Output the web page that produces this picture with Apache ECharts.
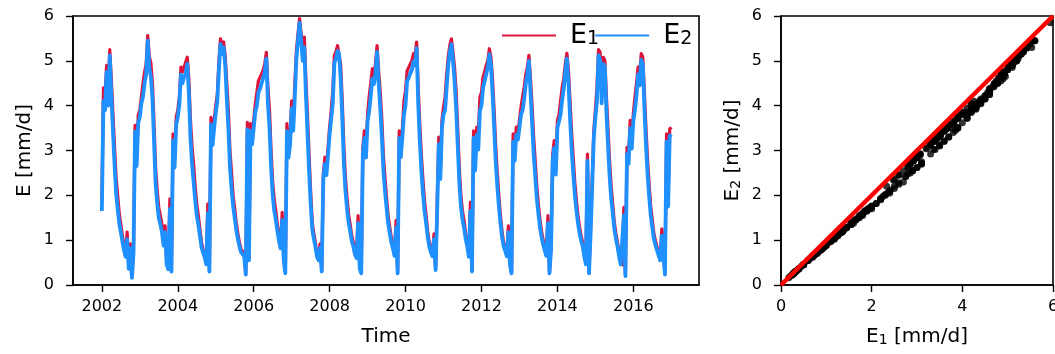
<!DOCTYPE html>
<html>
<head>
<meta charset="utf-8">
<script src="https://cdn.jsdelivr.net/npm/echarts@6/dist/echarts.min.js"></script>
<style>
  html, body { margin: 0; padding: 0; background: #fff; }
  #chart { width: 1055px; height: 354px; }
</style>
</head>
<body>
<div id="chart"></div>
<script>
// time series sampled twice a month, one row per year
const startYear = 2002;
const stepsPerYear = 24;

const e1 = [
  1.85, 4.4, 4.2, 4.9, 4.3, 5.25, 4.6, 3.85, 3.1, 2.4, 2.0, 1.6, 1.35, 1.1, 0.88, 0.7, 1.18, 0.4, 0.92, 0.17, 0.8, 3.56, 2.8, 3.8,
  3.9, 4.2, 4.5, 4.75, 4.93, 5.57, 5.1, 4.95, 4.5, 3.6, 2.6, 2.1, 1.73, 1.55, 1.35, 1.0, 1.32, 0.5, 0.38, 1.92, 0.32, 3.37, 2.8, 3.74,
  3.9, 4.19, 4.86, 4.75, 4.86, 4.9, 5.08, 4.6, 3.7, 3.1, 2.7, 2.2, 1.8, 1.55, 1.25, 0.95, 0.8, 0.69, 0.5, 1.81, 0.32, 3.74, 3.3, 3.67,
  4.0, 4.26, 5.0, 5.49, 5.3, 5.42, 5.1, 4.5, 3.9, 3.0, 2.5, 2.0, 1.7, 1.38, 1.15, 0.95, 0.8, 0.75, 0.7, 0.25, 3.63, 0.6, 3.6, 3.3,
  3.67, 4.04, 4.3, 4.56, 4.6, 4.71, 4.8, 4.93, 5.19, 4.4, 3.9, 3.0, 2.3, 1.9, 1.65, 1.35, 1.1, 0.9, 1.62, 0.6, 0.28, 3.6, 3.0, 3.3,
  4.11, 3.6, 4.5, 5.23, 5.6, 5.94, 5.6, 5.2, 5.53, 4.6, 3.8, 2.9, 2.1, 1.4, 1.15, 0.95, 0.69, 0.6, 0.92, 0.32, 2.48, 2.85, 2.6, 3.07,
  3.52, 3.9, 4.34, 5.12, 5.2, 5.34, 5.3, 4.9, 4.11, 3.1, 2.4, 1.95, 1.58, 1.35, 1.1, 0.95, 0.75, 0.65, 1.55, 0.4, 0.28, 3.07, 3.44, 3.0,
  3.82, 4.2, 4.5, 4.82, 4.7, 4.93, 5.34, 4.78, 4.3, 3.7, 2.9, 2.4, 1.95, 1.55, 1.3, 1.05, 0.9, 0.7, 1.44, 0.28, 3.44, 3.0, 3.48, 4.11,
  4.34, 4.78, 4.85, 4.93, 5.0, 5.16, 5.1, 5.42, 4.41, 3.6, 2.9, 2.35, 1.88, 1.55, 1.2, 0.95, 0.8, 0.69, 1.14, 0.36, 1.88, 3.3, 2.5, 3.67,
  3.97, 4.2, 4.7, 5.1, 5.35, 5.49, 5.2, 4.85, 4.3, 3.5, 2.6, 2.0, 1.65, 1.44, 1.15, 0.95, 0.69, 1.85, 0.32, 3.44, 2.7, 3.52, 3.37, 4.19,
  4.3, 4.64, 4.75, 4.9, 5.01, 5.27, 5.08, 4.6, 3.9, 3.1, 2.5, 2.0, 1.55, 1.2, 0.95, 0.84, 0.7, 1.32, 0.5, 0.28, 3.37, 2.92, 3.52, 3.4,
  3.67, 3.97, 4.2, 4.41, 4.7, 4.86, 5.12, 4.6, 4.0, 3.3, 2.75, 2.2, 1.8, 1.45, 1.2, 1.0, 0.85, 0.7, 1.55, 0.28, 0.9, 2.92, 3.22, 2.6,
  3.67, 3.8, 4.1, 4.4, 4.6, 4.93, 5.17, 4.78, 4.1, 3.4, 2.85, 2.3, 1.9, 1.55, 1.3, 1.1, 0.95, 0.69, 0.5, 2.92, 0.28, 1.29, 2.33, 3.44,
  3.9, 4.4, 5.25, 5.19, 4.34, 5.08, 5.01, 4.2, 3.5, 2.75, 2.2, 1.8, 1.4, 1.15, 0.95, 0.7, 0.5, 0.45, 1.73, 0.21, 3.07, 2.85, 3.67, 3.2,
  3.82, 4.19, 4.5, 4.86, 4.7, 5.16, 5.08, 4.3, 3.5, 2.8, 2.25, 1.75, 1.45, 1.15, 0.99, 0.85, 0.73, 0.6, 1.25, 1.25, 0.25, 3.37, 2.0, 3.48,
  3.52
];

const e2 = [
  1.65, 4.1, 3.9, 4.75, 4.0, 5.12, 4.25, 3.45, 2.7, 2.05, 1.7, 1.38, 1.18, 0.97, 0.78, 0.63, 1.02, 0.36, 0.82, 0.16, 0.7, 3.42, 2.65, 3.62,
  3.75, 4.05, 4.2, 4.5, 4.7, 5.45, 4.85, 4.65, 4.15, 3.2, 2.25, 1.82, 1.5, 1.35, 1.18, 0.88, 1.18, 0.45, 0.35, 1.7, 0.3, 3.22, 2.62, 3.58,
  3.74, 4.02, 4.7, 4.5, 4.65, 4.7, 4.93, 4.3, 3.3, 2.7, 2.3, 1.9, 1.55, 1.35, 1.1, 0.85, 0.72, 0.62, 0.46, 1.6, 0.3, 3.58, 3.12, 3.5,
  3.84, 4.1, 4.8, 5.38, 5.15, 5.3, 4.9, 4.15, 3.5, 2.62, 2.15, 1.75, 1.5, 1.22, 1.03, 0.86, 0.73, 0.69, 0.64, 0.23, 3.47, 0.55, 3.44, 3.14,
  3.5, 3.86, 4.0, 4.3, 4.38, 4.5, 4.62, 4.75, 5.05, 4.05, 3.5, 2.62, 2.0, 1.65, 1.45, 1.2, 0.98, 0.82, 1.45, 0.55, 0.26, 3.43, 2.84, 3.13,
  3.94, 3.44, 4.2, 5.05, 5.45, 5.85, 5.45, 5.0, 5.3, 4.25, 3.4, 2.55, 1.82, 1.25, 1.03, 0.86, 0.63, 0.55, 0.83, 0.3, 2.34, 2.7, 2.45, 2.9,
  3.36, 3.72, 4.05, 4.95, 5.05, 5.22, 5.15, 4.6, 3.72, 2.72, 2.1, 1.7, 1.4, 1.2, 0.98, 0.86, 0.68, 0.6, 1.38, 0.37, 0.26, 2.92, 3.28, 2.84,
  3.65, 3.88, 4.22, 4.6, 4.48, 4.72, 5.2, 4.5, 3.95, 3.3, 2.55, 2.1, 1.72, 1.38, 1.16, 0.95, 0.82, 0.65, 1.28, 0.26, 3.28, 2.85, 3.3, 3.8,
  4.02, 4.55, 4.62, 4.72, 4.8, 4.98, 4.9, 5.28, 4.05, 3.22, 2.55, 2.05, 1.65, 1.38, 1.07, 0.86, 0.73, 0.64, 1.02, 0.33, 1.65, 3.14, 2.36, 3.5,
  3.8, 3.9, 4.42, 4.9, 5.2, 5.37, 5.0, 4.55, 3.92, 3.1, 2.28, 1.75, 1.46, 1.28, 1.03, 0.86, 0.63, 1.65, 0.3, 3.28, 2.55, 3.35, 3.02, 3.88,
  4.0, 4.4, 4.55, 4.7, 4.85, 5.15, 4.9, 4.28, 3.52, 2.75, 2.2, 1.76, 1.38, 1.07, 0.86, 0.76, 0.64, 1.18, 0.46, 0.26, 3.2, 2.77, 3.35, 3.24,
  3.5, 3.8, 3.9, 4.15, 4.48, 4.7, 5.0, 4.3, 3.62, 2.92, 2.42, 1.92, 1.58, 1.28, 1.07, 0.9, 0.77, 0.65, 1.38, 0.26, 0.8, 2.77, 3.06, 2.46,
  3.5, 3.5, 3.8, 4.12, 4.38, 4.75, 5.05, 4.5, 3.72, 3.02, 2.5, 2.02, 1.68, 1.38, 1.16, 0.99, 0.86, 0.64, 0.46, 2.77, 0.26, 1.15, 2.2, 3.28,
  3.72, 4.1, 5.12, 5.02, 4.05, 4.93, 4.86, 3.85, 3.12, 2.42, 1.93, 1.6, 1.25, 1.03, 0.86, 0.64, 0.46, 0.42, 1.55, 0.2, 2.92, 2.7, 3.5, 3.04,
  3.65, 3.9, 4.22, 4.7, 4.45, 5.02, 4.92, 3.95, 3.12, 2.48, 1.98, 1.55, 1.28, 1.03, 0.89, 0.77, 0.66, 0.55, 1.1, 1.12, 0.23, 3.2, 1.75, 3.32,
  3.36
];

const yearTicks = [2002, 2004, 2006, 2008, 2010, 2012, 2014, 2016];
const oneToOne = [0, 6];

const font = "DejaVu Sans";
const ink = "#000";

const timeData = e1.map((v, i) => [startYear + i / stepsPerYear, v]);
const timeData2 = e2.map((v, i) => [startYear + i / stepsPerYear, v]);
const n = Math.min(e1.length, e2.length);
const pairs = [];
for (let i = 0; i < n; i++) pairs.push([e1[i], e2[i]]);

const subRich = {
  s: { fontSize: 14, fontFamily: font, color: ink, verticalAlign: "bottom", lineHeight: 14 }
};

const baseAxis = {
  axisLine: { show: true, onZero: false, lineStyle: { color: ink, width: 1.6 } },
  axisTick: { show: true, length: 7, lineStyle: { color: ink, width: 1.4 } },
  splitLine: { show: false },
  axisLabel: { fontSize: 16, fontFamily: font, color: ink },
  nameLocation: "middle",
  nameMoveOverlap: false,
  nameTextStyle: { fontSize: 20, fontFamily: font, color: ink, rich: subRich }
};

const chart = echarts.init(document.getElementById("chart"), null, { renderer: "canvas" });

chart.setOption({
  animation: false,
  backgroundColor: "#fff",
  grid: [
    { left: 73, top: 16, width: 626, height: 269, show: true, borderColor: ink, borderWidth: 1.6, outerBoundsMode: "none" },
    { left: 781, top: 16, width: 272, height: 269, show: true, borderColor: ink, borderWidth: 1.6, outerBoundsMode: "none" }
  ],
  legend: {
    left: 502,
    top: 22,
    padding: 0,
    icon: "rect",
    itemWidth: 54,
    itemHeight: 2,
    itemGap: -4,
    selectedMode: false,
    data: ["E1", "E2"],
    formatter: (name) => "E{s|" + name.slice(1) + "}",
    textStyle: {
      fontSize: 27,
      fontFamily: font,
      color: ink,
      padding: [0, 0, 0, 9],
      rich: { s: { fontSize: 19, fontFamily: font, color: ink, verticalAlign: "bottom", lineHeight: 20 } }
    }
  },
  xAxis: [
    {
      ...baseAxis,
      gridIndex: 0,
      type: "value",
      min: 2001.24,
      max: 2017.73,
      name: "Time",
      nameGap: 42,
      axisTick: { ...baseAxis.axisTick, customValues: yearTicks },
      axisLabel: { ...baseAxis.axisLabel, margin: 14, customValues: yearTicks, formatter: (v) => String(v) }
    },
    {
      ...baseAxis,
      gridIndex: 1,
      type: "value",
      min: 0,
      max: 6,
      interval: 2,
      name: "E{s|1} [mm/d]",
      nameGap: 42,
      axisLabel: { ...baseAxis.axisLabel, margin: 14, showMaxLabel: true }
    }
  ],
  yAxis: [
    {
      ...baseAxis,
      gridIndex: 0,
      type: "value",
      min: 0,
      max: 6,
      interval: 1,
      name: "E [mm/d]",
      nameRotate: 90,
      nameGap: 38,
      axisLabel: { ...baseAxis.axisLabel, margin: 19 }
    },
    {
      ...baseAxis,
      gridIndex: 1,
      type: "value",
      min: 0,
      max: 6,
      interval: 1,
      name: "E{s|2} [mm/d]",
      nameRotate: 90,
      nameGap: 38,
      axisLabel: { ...baseAxis.axisLabel, margin: 19 }
    }
  ],
  series: [
    {
      name: "E1",
      type: "line",
      xAxisIndex: 0,
      yAxisIndex: 0,
      data: timeData,
      showSymbol: false,
      symbol: "none",
      color: "#DC143C",
      lineStyle: { color: "#DC143C", width: 3.2, join: "round" },
      z: 2
    },
    {
      name: "E2",
      type: "line",
      xAxisIndex: 0,
      yAxisIndex: 0,
      data: timeData2,
      showSymbol: false,
      symbol: "none",
      color: "#1E90FF",
      lineStyle: { color: "#1E90FF", width: 3.8, join: "round" },
      z: 3
    },
    {
      name: "pairs",
      type: "scatter",
      xAxisIndex: 1,
      yAxisIndex: 1,
      data: pairs,
      symbolSize: 7,
      itemStyle: { color: ink },
      z: 2
    },
    {
      name: "1:1",
      type: "line",
      xAxisIndex: 1,
      yAxisIndex: 1,
      data: oneToOne.map((v) => [v, v]),
      showSymbol: false,
      symbol: "none",
      lineStyle: { color: "#ff0000", width: 4.5 },
      z: 4
    }
  ]
});
</script>
</body>
</html>
